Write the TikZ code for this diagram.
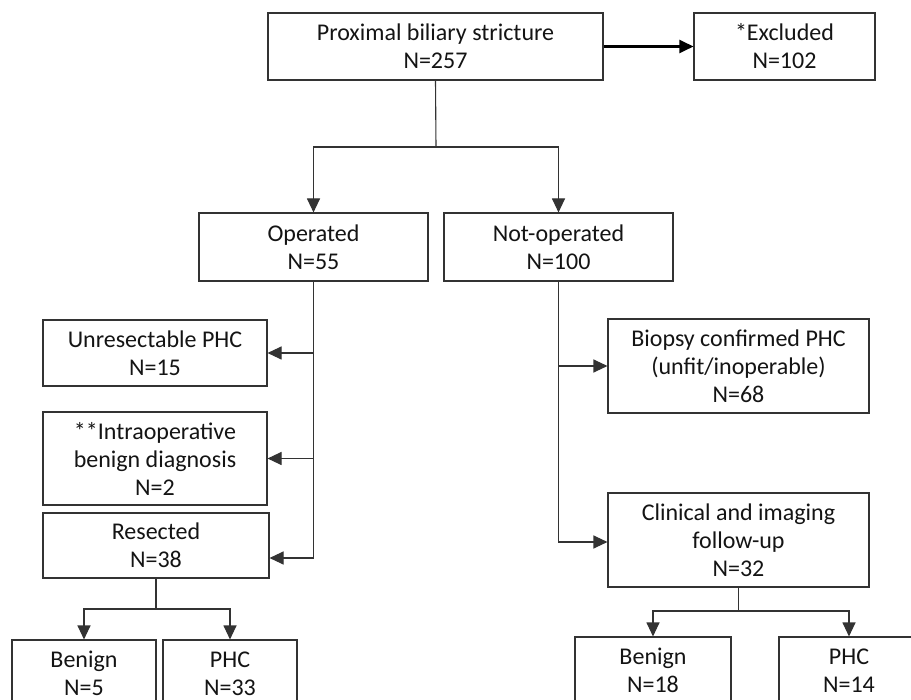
\documentclass[tikz,border=0pt]{standalone}
\usepackage{fontspec}
\setmainfont{Carlito}
\usetikzlibrary{arrows.meta}
\begin{document}
\begin{tikzpicture}[x=1pt,y=-1pt,
  box/.style={draw=black!80, line width=1.1pt, fill=white, text=black!92, align=center,
    inner sep=0pt, font=\fontsize{24}{28}\selectfont},
  conn/.style={draw=black!80, line width=1.1pt},
  arr/.style={conn, -{Triangle[length=14pt,width=13pt]}},
  thickarr/.style={draw=black, line width=2.2pt, -{Triangle[length=14pt,width=13pt]}}]
\useasboundingbox (0,0) rectangle (911,700);
\clip (0,0) rectangle (911,700);
\fill[white] (0,0) rectangle (911,700);
% boxes
\node[box, minimum width=335pt, minimum height=67pt] (top) at (435.5,46.5) {Proximal biliary stricture\\N=257};
\node[box, minimum width=181pt, minimum height=67pt] (excl) at (784.5,46.5) {*Excluded\\N=102};
\node[box, minimum width=229pt, minimum height=68pt] (oper) at (313.5,247) {Operated\\N=55};
\node[box, minimum width=229pt, minimum height=68pt] (notop) at (558.5,247) {Not-operated\\N=100};
\node[box, minimum width=224pt, minimum height=66pt] (unres) at (155,353) {Unresectable PHC\\N=15};
\node[box, minimum width=224pt, minimum height=93pt] (intra) at (155,458.5) {**Intraoperative\\benign diagnosis\\N=2};
\node[box, minimum width=226pt, minimum height=65pt] (resec) at (156,545.5) {Resected\\N=38};
\node[box, minimum width=261pt, minimum height=94pt] (biop) at (738.5,366) {Biopsy confirmed PHC\\(unfit/inoperable)\\N=68};
\node[box, minimum width=261pt, minimum height=94pt] (clin) at (738.5,540) {Clinical and imaging\\follow-up\\N=32};
\node[box, minimum width=144pt, minimum height=67pt] (benL) at (84,673.5) {Benign\\N=5};
\node[box, minimum width=134pt, minimum height=67pt] (phcL) at (230,673.5) {PHC\\N=33};
\node[box, minimum width=156pt, minimum height=67pt] (benR) at (653,670.5) {Benign\\N=18};
\node[box, minimum width=140pt, minimum height=67pt] (phcR) at (849,670.5) {PHC\\N=14};
% connectors
\coordinate (j1) at (436,147);
\coordinate (j2) at (156,609);
\coordinate (j3) at (738.5,611);
\draw[thickarr] (top.east) -- (excl.west);
\draw[conn] (top.south) -- (j1);
\draw[arr] (j1) -| (oper.north);
\draw[arr] (j1) -| (notop.north);
\draw[arr] (oper.south) |- ([yshift=-12.5pt]resec.east);
\draw[arr] (oper.south |- unres.east) -- (unres.east);
\draw[arr] (oper.south |- intra.east) -- (intra.east);
\draw[arr] (notop.south) |- ([yshift=-2pt]clin.west);
\draw[arr] (notop.south |- biop.west) -- (biop.west);
\draw[conn] (resec.south) -- (j2);
\draw[arr] (j2) -| (benL.north);
\draw[arr] (j2) -| (phcL.north);
\draw[conn] (clin.south) -- (j3);
\draw[arr] (j3) -| (benR.north);
\draw[arr] (j3) -| (phcR.north);
\end{tikzpicture}
\end{document}
